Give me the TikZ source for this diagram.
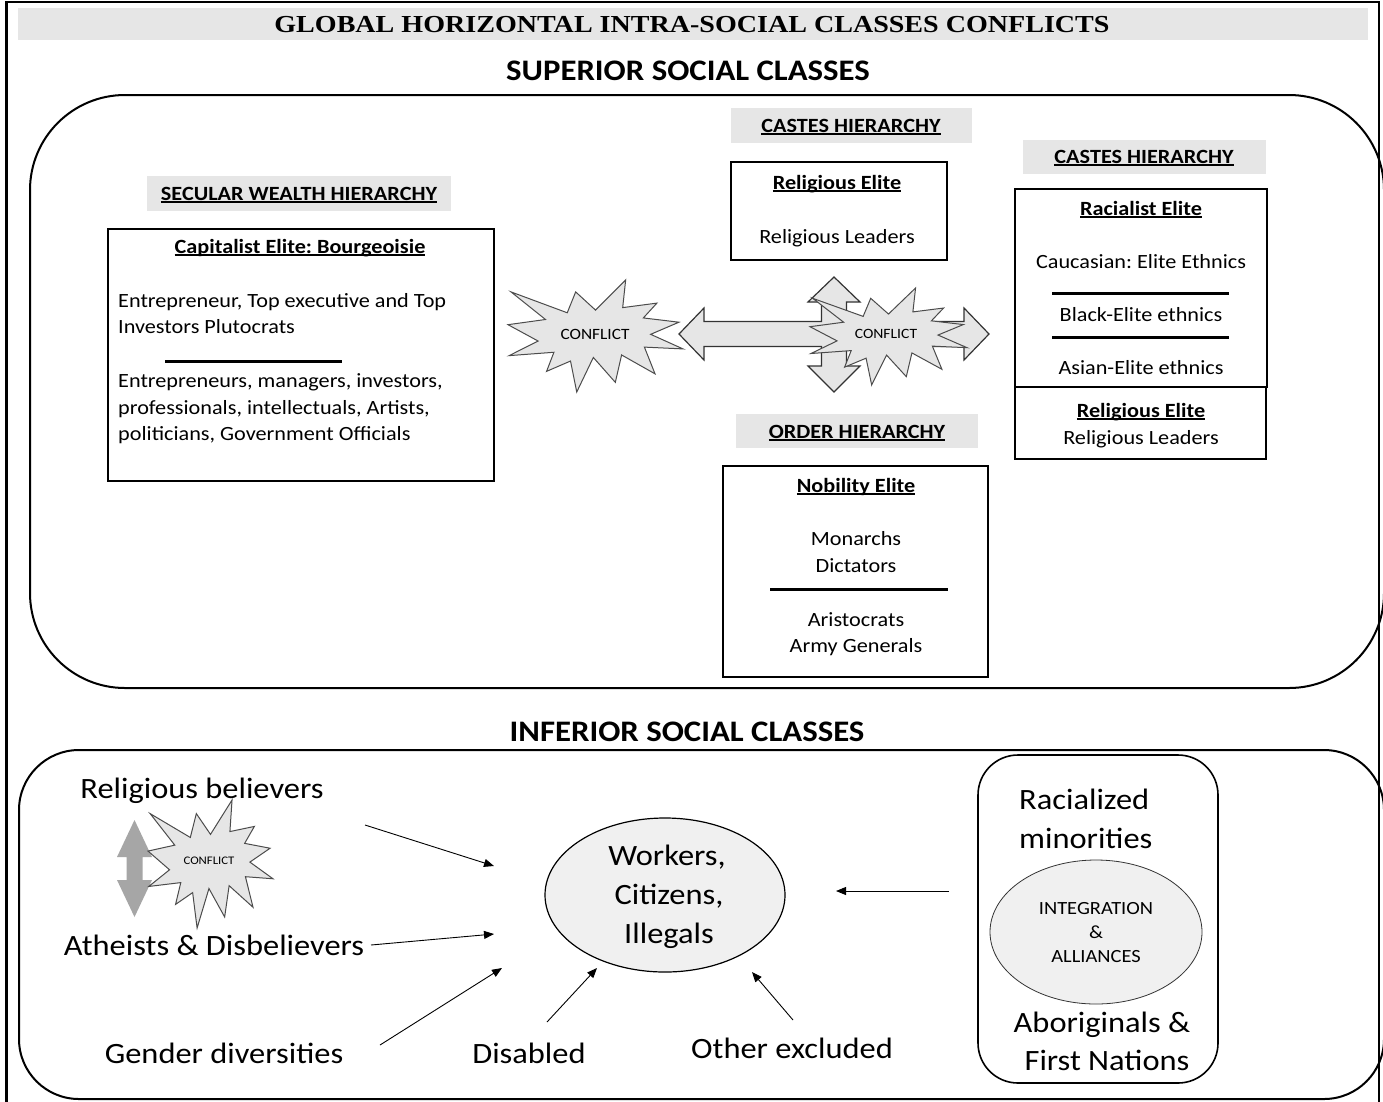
\documentclass[tikz,border=0pt]{standalone}
\usepackage{fontspec}
\setmainfont{Carlito}[FakeStretch=1.1]
\newfontfamily\titlefont{Liberation Serif}[FakeStretch=1.15]
\usetikzlibrary{arrows.meta,shapes.geometric}
\definecolor{bandgray}{HTML}{E6E6E6}
\definecolor{shapegray}{HTML}{E6E6E6}
\definecolor{ellgray}{HTML}{F0F0F0}
\definecolor{arrgray}{HTML}{A6A6A6}
\newcommand{\fsz}[1]{\fontsize{#1}{#1}\selectfont}
\newcommand{\ulx}[1]{\setbox0=\hbox{#1}\rlap{\rule[-0.14em]{\wd0}{0.07em}}\box0}
\frenchspacing
\tikzset{
  band/.style={fill=bandgray, inner sep=0pt},
  bandtxt/.style={font=\fsz{20.2}\bfseries, inner sep=0pt, anchor=base},
  elitebox/.style={draw, line width=1.3pt},
  boxtxt/.style={font=\fsz{20.2}, inner sep=0pt, anchor=base},
  boxhead/.style={font=\fsz{20.2}\bfseries, inner sep=0pt, anchor=base},
  seprule/.style={line width=3pt},
  boom/.style={fill=shapegray, draw=black!70, line width=1pt},
  quadarrow/.style={fill=shapegray, draw=black!80, line width=1.2pt},
  bigtxt/.style={font=\fsz{29.5}, inner sep=0pt, anchor=base},
  heading/.style={font=\fsz{29.8}\bfseries, inner sep=0pt, anchor=base},
  thinarrow/.style={-{Triangle[length=10pt,width=8pt]}, line width=0.9pt},
  roundframe/.style={line width=2pt},
  pics/explosion/.style={code={
    \draw[boom] (108,58) -- (145.22,0) -- (141.55,53.25) -- (183.80,44.57) -- (167.02,73.15)
      -- (210.97,81.37) -- (176.07,104.75) -- (216,132.90) -- (168.37,129.42) -- (181.45,180.95)
      -- (140.20,144.57) -- (132.47,197.37) -- (105.32,149.35) -- (84.85,216) -- (77.15,156.27)
      -- (47.62,176.17) -- (56.67,139.37) -- (1.35,145.87) -- (37.22,117.75) -- (0,86.15)
      -- (46.27,76.17) -- (3.70,22.95) -- (73.12,63.20) -- (83.52,22.95) -- cycle;
  }}
}
\begin{document}
\begin{tikzpicture}[x=1pt,y=-1pt]
\useasboundingbox (0,0) rectangle (1383,1101);
\fill[white] (0,0) rectangle (1383,1101);

% title band
\fill[band] (18,8) rectangle (1368,40);
\node[font=\titlefont\fsz{24.4}\bfseries, inner sep=0pt, anchor=base] (title) at (692,32) {GLOBAL HORIZONTAL INTRA-SOCIAL CLASSES CONFLICTS};

% headings
\node[heading] (sup) at (688,80) {SUPERIOR SOCIAL CLASSES};
\node[heading] (inf) at (687,741) {INFERIOR SOCIAL CLASSES};

% rounded frames
\draw[roundframe, rounded corners=95pt] (30,95) rectangle (1384,688);
\draw[roundframe, rounded corners=60pt] (19,750) rectangle (1384,1099);

% ---- secular wealth hierarchy
\fill[band] (147,176) rectangle (451,211);
\node[bandtxt] (secband) at (299,200) {\ulx{SECULAR WEALTH HIERARCHY}};
\node[elitebox, minimum width=386pt, minimum height=252pt, inner sep=0pt] (capbox) at (301,355) {};
\node[boxhead] (caphead) at (300,253) {\ulx{Capitalist Elite: Bourgeoisie}};
\node[boxtxt, anchor=base west] (cap1) at (118,307) {Entrepreneur, Top executive and Top};
\node[boxtxt, anchor=base west] (cap2) at (118,333) {Investors Plutocrats};
\draw[seprule] (165,361) -- (342,361);
\node[boxtxt, anchor=base west] (cap3) at (118,387) {Entrepreneurs, managers, investors,};
\node[boxtxt, anchor=base west] (cap4) at (118,414) {professionals, intellectuals, Artists,};
\node[boxtxt, anchor=base west] (cap5) at (118,440) {politicians, Government Officials};

% ---- castes hierarchy (middle)
\fill[band] (731,108) rectangle (972,143);
\node[bandtxt] (casteband1) at (851,132) {\ulx{CASTES HIERARCHY}};
\node[elitebox, minimum width=216pt, minimum height=98pt, inner sep=0pt] (relbox1) at (839,211) {};
\node[boxhead] (relhead1) at (837,189) {\ulx{Religious Elite}};
\node[boxtxt] (rellead1) at (837,243) {Religious Leaders};

% ---- castes hierarchy (right)
\fill[band] (1023,140) rectangle (1266,174);
\node[bandtxt] (casteband2) at (1144,163) {\ulx{CASTES HIERARCHY}};
\node[elitebox, minimum width=252pt, minimum height=198pt, inner sep=0pt] (racbox) at (1141,288) {};
\node[boxhead] (rachead) at (1141,215) {\ulx{Racialist Elite}};
\node[boxtxt] (rac1) at (1141,268) {Caucasian: Elite Ethnics};
\draw[seprule] (1052,293) -- (1229,293);
\node[boxtxt] (rac2) at (1141,321) {Black-Elite ethnics};
\draw[seprule] (1052,337) -- (1229,337);
\node[boxtxt] (rac3) at (1141,374) {Asian-Elite ethnics};
\node[elitebox, minimum width=251pt, minimum height=72pt, inner sep=0pt] (relbox2) at (1140.5,423) {};
\node[boxhead] (relhead2) at (1141,417) {\ulx{Religious Elite}};
\node[boxtxt] (rellead2) at (1141,444) {Religious Leaders};

% ---- order hierarchy
\fill[band] (736,414) rectangle (978,448);
\node[bandtxt] (orderband) at (857,438) {\ulx{ORDER HIERARCHY}};
\node[elitebox, minimum width=265pt, minimum height=211pt, inner sep=0pt] (nobbox) at (855.5,571.5) {};
\node[boxhead] (nobhead) at (856,492) {\ulx{Nobility Elite}};
\node[boxtxt] (nob1) at (856,545) {Monarchs};
\node[boxtxt] (nob2) at (856,572) {Dictators};
\draw[seprule] (770,589) -- (948,589);
\node[boxtxt] (nob3) at (856,626) {Aristocrats};
\node[boxtxt] (nob4) at (856,652) {Army Generals};

% ---- conflict explosion 1
\pic[xscale=175/216, yscale=112/216] at (508,280) {explosion};
\node[font=\fsz{15.7}, inner sep=0pt] (conf1) at (595,334) {CONFLICT};

% ---- quad arrow
\begin{scope}[shift={(834,334)}]
\draw[quadarrow] (0,-57) -- (26,-32) -- (12.5,-32) -- (12.5,-12.5) -- (130,-12.5) -- (130,-26)
  -- (155,0) -- (130,26) -- (130,12.5) -- (12.5,12.5) -- (12.5,32) -- (26,32) -- (0,58)
  -- (-26,32) -- (-12.5,32) -- (-12.5,12.5) -- (-130,12.5) -- (-130,26) -- (-155,0)
  -- (-130,-26) -- (-130,-12.5) -- (-12.5,-12.5) -- (-12.5,-32) -- (-26,-32) -- cycle;
\end{scope}
\pic[xscale=157/216, yscale=97/216] at (810,288) {explosion};
\node[font=\fsz{14.2}, inner sep=0pt] (conf2) at (886,334) {CONFLICT};

% ---- lower part
\node[bigtxt] (relbel) at (202,798) {Religious believers};
\node[bigtxt] (atheists) at (214,955) {Atheists \& Disbelievers};
\node[bigtxt] (gender) at (224,1063) {Gender diversities};
\node[bigtxt] (disabled) at (529,1063) {Disabled};
\node[bigtxt] (other) at (792,1058) {Other excluded};

\fill[arrgray] (134.5,820) -- (152,857) -- (142.5,857) -- (142.5,880) -- (152,880) -- (134.5,917)
  -- (117,880) -- (126.5,880) -- (126.5,857) -- (117,857) -- cycle;
\pic[xscale=125/216, yscale=128/216] at (148,800) {explosion};
\node[font=\fsz{11.6}, inner sep=0pt] (conf3) at (209,861) {CONFLICT};

\node[draw, line width=1.2pt, fill=ellgray, ellipse, minimum width=240pt, minimum height=154pt, inner sep=0pt] (workers) at (665,895) {};
\node[bigtxt] (w1) at (667,865) {Workers,};
\node[bigtxt] (w2) at (669,904) {Citizens,};
\node[bigtxt] (w3) at (669,943) {Illegals};

\draw[roundframe, line width=1.6pt, rounded corners=40pt] (978,755) rectangle (1218,1083);
\node[bigtxt, anchor=base west] (racmin1) at (1019,809) {Racialized};
\node[bigtxt, anchor=base west] (racmin2) at (1019,848) {minorities};
\node[draw, line width=0.8pt, draw=black!80, fill=ellgray, ellipse, minimum width=212pt, minimum height=144pt, inner sep=0pt] (integ) at (1096,932) {};
\node[font=\fsz{18.6}, inner sep=0pt, anchor=base] (i1) at (1096,914) {INTEGRATION};
\node[font=\fsz{18.6}, inner sep=0pt, anchor=base] (i2) at (1096,938) {\&};
\node[font=\fsz{18.6}, inner sep=0pt, anchor=base] (i3) at (1096,962) {ALLIANCES};
\node[bigtxt] (abor1) at (1102,1032) {Aboriginals \&};
\node[bigtxt] (abor2) at (1107,1070) {First Nations};

% connectors
\coordinate (a1s) at (365,825); \coordinate (a1e) at (494,866);
\coordinate (a2s) at (371,945); \coordinate (a2e) at (494,934);
\coordinate (a3s) at (380,1045); \coordinate (a3e) at (502,968);
\coordinate (a4s) at (547,1022); \coordinate (a4e) at (597,968);
\coordinate (a5s) at (793,1020); \coordinate (a5e) at (752,972);
\coordinate (a6s) at (949,891); \coordinate (a6e) at (836,891);
\draw[thinarrow] (a1s) -- (a1e);
\draw[thinarrow] (a2s) -- (a2e);
\draw[thinarrow] (a3s) -- (a3e);
\draw[thinarrow] (a4s) -- (a4e);
\draw[thinarrow] (a5s) -- (a5e);
\draw[thinarrow] (a6s) -- (a6e);

% outer frame
\draw[line width=2.5pt] (6.5,2) rectangle (1379,1112);
\end{tikzpicture}
\end{document}
